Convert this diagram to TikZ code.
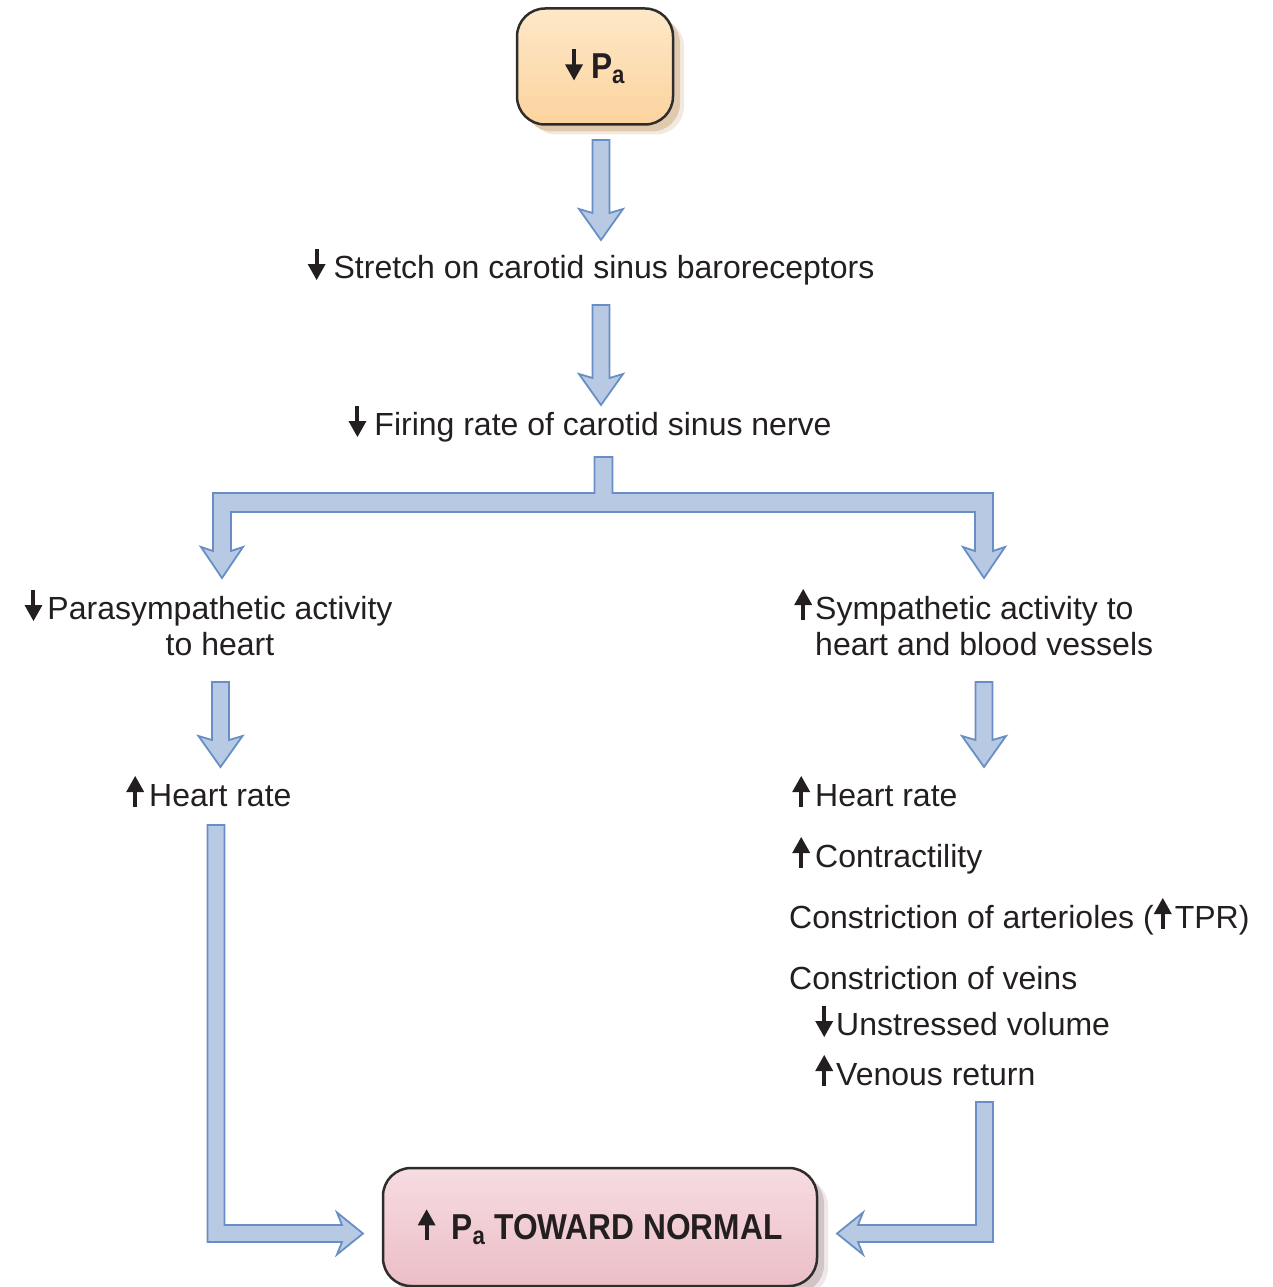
\documentclass[tikz,border=0pt]{standalone}
\usepackage{fontspec}
\setmainfont{Liberation Sans}
\newfontfamily\boxfont[FakeStretch=0.88]{Liberation Sans}
\usetikzlibrary{calc, shadows}
\definecolor{arrowfill}{RGB}{184,201,227}
\definecolor{arrowedge}{RGB}{104,143,197}
\definecolor{textc}{RGB}{35,31,32}
\definecolor{boxedge}{RGB}{45,45,45}
\definecolor{paorange}{RGB}{252,211,158}
\definecolor{paorangelt}{RGB}{254,232,200}
\definecolor{pashadow}{RGB}{190,140,80}
\definecolor{normalpink}{RGB}{236,190,198}
\definecolor{normalpinklt}{RGB}{246,220,225}
\definecolor{normalshadow}{RGB}{160,130,135}

% little up / down arrows used in the text
\newcommand{\decr}{\tikz[baseline=0pt, sharp corners]{\fill[textc] (-2pt,29pt) rectangle (2pt,13pt); \fill[textc] (-9pt,14pt) -- (9pt,14pt) -- (0pt,-2pt) -- cycle;}}
\newcommand{\incr}{\tikz[baseline=0pt, sharp corners]{\fill[textc] (-2pt,-1pt) rectangle (2pt,15pt); \fill[textc] (-9pt,14pt) -- (9pt,14pt) -- (0pt,30pt) -- cycle;}}

\tikzset{
  blockarrow/.style={draw=arrowedge, fill=arrowfill, line width=1.8pt, line join=miter},
  vblock/.style={to path={let \p1=(\tikztostart), \p2=(\tikztotarget) in
    (\x1-8.5pt,\y1) -- (\x1+8.5pt,\y1) -- (\x1+8.5pt,\y2+27pt) -- (\x1+22pt,\y2+31pt)
    -- (\x1,\y2) -- (\x1-22pt,\y2+31pt) -- (\x1-8.5pt,\y2+27pt) -- cycle}},
  elbowright/.style={to path={let \p1=(\tikztostart), \p2=(\tikztotarget) in
    (\x1-8.5pt,\y1) -- (\x1+8.5pt,\y1) -- (\x1+8.5pt,\y2+8.5pt) -- (\x2-21pt,\y2+8.5pt)
    -- (\x2-26pt,\y2+21pt) -- (\x2,\y2) -- (\x2-26pt,\y2-21pt) -- (\x2-21pt,\y2-8.5pt)
    -- (\x1-8.5pt,\y2-8.5pt) -- cycle}},
  elbowleft/.style={to path={let \p1=(\tikztostart), \p2=(\tikztotarget) in
    (\x1+8.5pt,\y1) -- (\x1-8.5pt,\y1) -- (\x1-8.5pt,\y2+8.5pt) -- (\x2+21pt,\y2+8.5pt)
    -- (\x2+26pt,\y2+21pt) -- (\x2,\y2) -- (\x2+26pt,\y2-21pt) -- (\x2+21pt,\y2-8.5pt)
    -- (\x1+8.5pt,\y2-8.5pt) -- cycle}}
}

\begin{document}
\begin{tikzpicture}[x=1pt, y=-1pt, font=\fontsize{32}{36}\selectfont, text=textc,
    lbl/.style={anchor=base west, inner sep=0pt},
    mid/.style={anchor=base, inner sep=0pt},
    roundbox/.style={rectangle, rounded corners=28pt, draw=boxedge, line width=2.5pt,
      inner sep=0pt, font=\boxfont\bfseries\fontsize{36}{40}\selectfont},
    pabox/.style={roundbox, top color=paorangelt, bottom color=paorange,
      minimum width=156pt, minimum height=116pt,
      drop shadow={shadow xshift=11pt, shadow yshift=-10pt, fill=pashadow, opacity=0.18},
      drop shadow={shadow xshift=7pt, shadow yshift=-7pt, fill=pashadow, opacity=0.35}},
    normalbox/.style={roundbox, top color=normalpinklt, bottom color=normalpink,
      minimum width=434pt, minimum height=118pt,
      drop shadow={shadow xshift=11pt, shadow yshift=-10pt, fill=normalshadow, opacity=0.18},
      drop shadow={shadow xshift=7pt, shadow yshift=-7pt, fill=normalshadow, opacity=0.35}}]
    \useasboundingbox (0,0) rectangle (1273,1287);

    % Boxes
    \node[pabox] (pa) at (595,66.5) {\decr\hspace{8pt}P\textsubscript{a}};
    \node[normalbox] (normal) at (600,1227) {\incr\hspace{16pt}P\textsubscript{a} TOWARD NORMAL};

    % Reflex chain
    \node[mid] (stretch) at (591,278) {\decr\hspace{8pt}Stretch on carotid sinus baroreceptors};
    \node[mid] (firing) at (590,435) {\decr\hspace{8pt}Firing rate of carotid sinus nerve};
    \node[mid, align=center] (para) at (220,655) {\llap{\decr\hspace{5pt}}Parasympathetic activity\\to heart};
    \node[lbl, align=left] (symp) at (815,655) {\llap{\incr\hspace{3pt}}Sympathetic activity to\\heart and blood vessels};
    \node[lbl] (hrl) at (149,806) {\llap{\incr\hspace{5pt}}Heart rate};

    % Sympathetic effects
    \foreach \nm/\x/\y/\txt in {hrr/815/806/{\llap{\incr\hspace{5pt}}Heart rate},
        contr/815/867/{\llap{\incr\hspace{5pt}}Contractility},
        arter/789/928/{Constriction of arterioles (\incr\hspace{3pt}TPR)},
        veins/789/989/{Constriction of veins},
        unstr/836/1035/{\llap{\decr\hspace{3pt}}Unstressed volume},
        venous/836/1085/{\llap{\incr\hspace{3pt}}Venous return}} {
        \node[lbl] (\nm) at (\x,\y) {\txt};
    }

    % Arrow ends
    \coordinate (a1s) at (601,140);   \coordinate (a1e) at (601,240);
    \coordinate (a2s) at (601,305);   \coordinate (a2e) at (601,405);
    \coordinate (ts) at (603.5,457);  \coordinate (tb) at (603.5,502.5);
    \coordinate (tl) at (222,578);    \coordinate (tr) at (984,578);
    \coordinate (a3s) at (220.5,682); \coordinate (a3e) at (220.5,767);
    \coordinate (a4s) at (984,682);   \coordinate (a4e) at (984,767);
    \coordinate (e1s) at (216,825);   \coordinate (e1e) at (363,1233.5);
    \coordinate (e2s) at (984.5,1102);\coordinate (e2e) at (837,1233.5);

    % Block arrows
    \draw[blockarrow] (a1s) to[vblock] (a1e);
    \draw[blockarrow] (a2s) to[vblock] (a2e);
    \draw[blockarrow] let \p1=(ts), \p2=(tb), \p3=(tl), \p4=(tr) in
        (\x1-9pt,\y1) -- (\x1+9pt,\y1) -- (\x1+9pt,\y2+9.5pt) -- (\x4+9pt,\y2+9.5pt)
        -- (\x4+9pt,\y4+27pt) -- (\x4+21pt,\y4+31pt) -- (\x4,\y4) -- (\x4-21pt,\y4+31pt)
        -- (\x4-9pt,\y4+27pt) -- (\x4-9pt,\y2-9.5pt) -- (\x3+9pt,\y2-9.5pt)
        -- (\x3+9pt,\y3+27pt) -- (\x3+21pt,\y3+31pt) -- (\x3,\y3) -- (\x3-21pt,\y3+31pt)
        -- (\x3-9pt,\y3+27pt) -- (\x3-9pt,\y2+9.5pt) -- (\x1-9pt,\y2+9.5pt) -- cycle;
    \draw[blockarrow] (a3s) to[vblock] (a3e);
    \draw[blockarrow] (a4s) to[vblock] (a4e);
    \draw[blockarrow] (e1s) to[elbowright] (e1e);
    \draw[blockarrow] (e2s) to[elbowleft] (e2e);
\end{tikzpicture}
\end{document}
